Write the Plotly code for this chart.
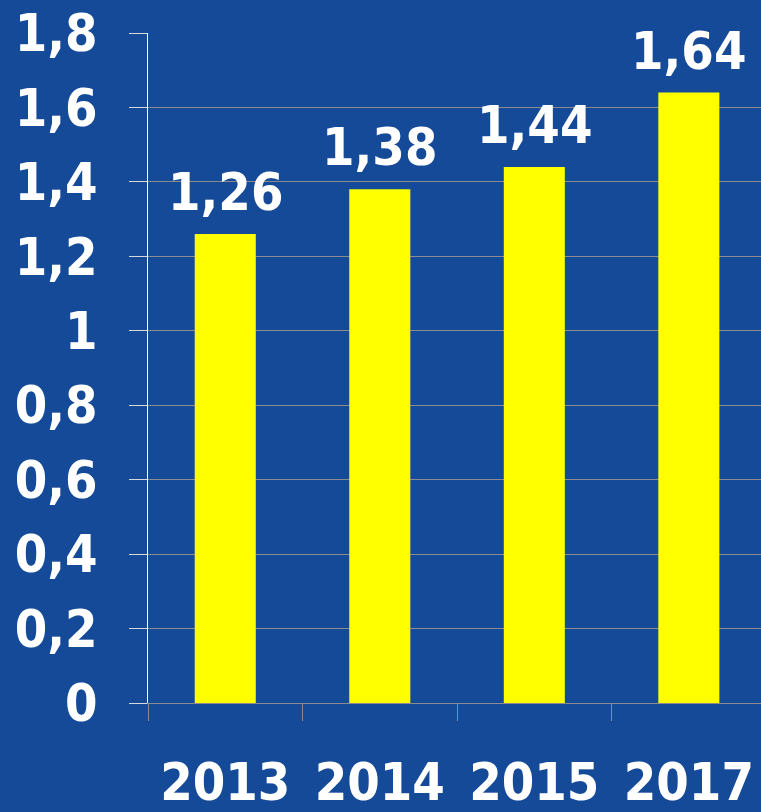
import plotly.graph_objects as go

years = ["2013", "2014", "2015", "2017"]
values = [1.26, 1.38, 1.44, 1.64]
y_ticks = [0, 0.2, 0.4, 0.6, 0.8, 1.0, 1.2, 1.4, 1.6, 1.8]

FONT = "DejaVu Sans Condensed, DejaVu Sans, sans-serif"
BG = "#154a99"

fig = go.Figure(
    go.Bar(
        x=years,
        y=values,
        marker=dict(color="#ffff00", line=dict(width=0)),
        hoverinfo="skip",
    )
)

for i, v in enumerate(values):
    fig.add_annotation(
        x=i, y=v, xref="x", yref="y", text=f"{v:.2f}".replace(".", ","),
        showarrow=False, yanchor="bottom", yshift=10,
        font=dict(family=FONT, size=52, color="white", weight="bold"),
    )

fig.update_layout(
    width=761, height=812,
    margin=dict(l=148, r=0, t=33, b=109),
    paper_bgcolor=BG, plot_bgcolor=BG,
    separators=", ",
    bargap=0.605,
    showlegend=False,
    font=dict(family=FONT, size=52, color="white", weight="bold"),
)
fig.update_xaxes(
    type="category",
    range=[-0.5, 3.467],
    automargin=False,
    showgrid=False,
    showline=True, linecolor="#8c8c8c", linewidth=1,
    ticks="outside", tickson="boundaries", ticklen=17, tickcolor="#8c8c8c", tickwidth=1,
    ticklabelstandoff=34,
    tickfont=dict(family=FONT, size=52, color="white", weight="bold"),
)
fig.update_yaxes(
    range=[0, 1.8],
    automargin=False,
    tickvals=y_ticks,
    showgrid=True, gridcolor="#8c8c8c", gridwidth=1,
    zeroline=False,
    showline=True, linecolor="white", linewidth=1,
    ticks="outside", ticklen=18, tickcolor="#d8d8d8", tickwidth=1,
    ticklabelstandoff=21,
    tickfont=dict(family=FONT, size=52, color="white", weight="bold"),
)

fig.write_html(
    "out.html",
    config={"displayModeBar": False},
    post_script="document.body.style.margin='0';document.body.style.background='" + BG + "';",
)
